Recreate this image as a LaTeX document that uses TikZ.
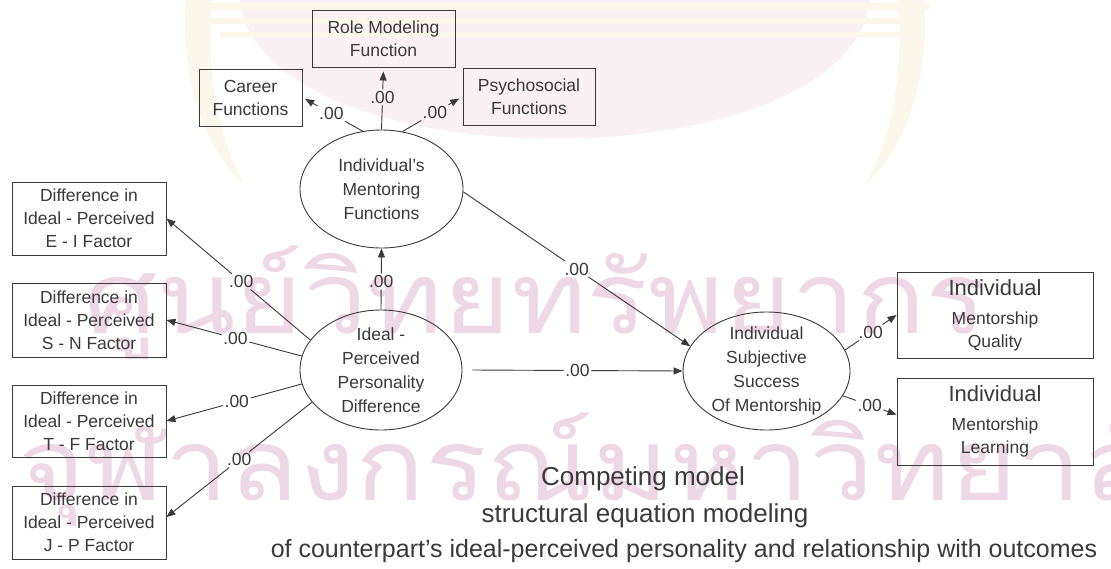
\documentclass[tikz,border=0pt]{standalone}
\usepackage{fontspec}
\setmainfont{Liberation Sans}
\newfontfamily\thaifont[Script=Thai]{Loma}
\usetikzlibrary{shapes.geometric,arrows.meta}

\definecolor{ink}{HTML}{3A3A3A}
\definecolor{wmpink}{HTML}{EFD8E6}
\definecolor{crestpink}{HTML}{FAF1F4}
\definecolor{crestgold}{HTML}{FBF7EA}

\tikzset{
  obs/.style={draw=ink, line width=0.9pt, rectangle, inner sep=0pt, align=center,
              text=ink, font=\fontsize{17.5}{23}\selectfont},
  latent/.style={draw=ink, line width=0.9pt, ellipse, inner sep=0pt},
  lattext/.style={align=center, text=ink, inner sep=0pt, font=\fontsize{17.5}{24}\selectfont},
  coef/.style={inner sep=1.5pt, text=ink, font=\fontsize{17.5}{18}\selectfont},
  link/.style={draw=ink, line width=0.9pt},
  arr/.style={link, -{Triangle[length=9pt,width=7pt]}},
  caption/.style={text=ink, inner sep=0pt, anchor=base},
  watermark/.style={text=wmpink, inner sep=0pt, anchor=base west, font=\thaifont\fontsize{100}{100}\selectfont},
}

% path from a latent variable to its target, broken by the coefficient label
\newcommand\coefpath[5]{%
  \path (#1) -- node[coef,pos=#3] (#4) {.00} (#2);
  \draw[link] (#1) -- (#4);
  \draw[arr,#5] (#4) -- (#2);}

\begin{document}
\begin{tikzpicture}[x=1pt,y=-1pt]
\useasboundingbox (0,0) rectangle (1111,568);
\fill[white] (0,0) rectangle (1111,568);

% faint crest behind the upper part
\fill[crestpink] (240,0) .. controls (260,185) and (850,185) .. (870,0) -- cycle;
\fill[crestgold] (190,3) rectangle (930,10);
\fill[crestgold] (205,18) rectangle (915,24);
\fill[crestgold] (220,32) rectangle (900,37);
\fill[crestgold] (186,0) .. controls (180,80) and (205,150) .. (245,185)
  .. controls (222,145) and (205,80) .. (212,0) -- cycle;
\fill[crestgold] (924,0) .. controls (930,80) and (905,150) .. (865,185)
  .. controls (888,145) and (905,80) .. (898,0) -- cycle;

% watermark lettering
\node[watermark] (wmtop) at (84,333) {\scalebox{1.15}[1]{ศูนย์วิทยทรัพยากร}};
\node[watermark] (wmbottom) at (18,500) {\scalebox{1.15}[1]{จุฬาลงกรณ์มหาวิทยาลัย}};

% mentoring function indicators
\node[obs, minimum width=143pt, minimum height=57pt] (role) at (383.5,38.5) {Role Modeling\\Function};
\node[obs, minimum width=103pt, minimum height=57pt] (career) at (250.5,97.5) {Career\\Functions};
\node[obs, minimum width=132pt, minimum height=57pt] (psycho) at (529,96.5) {Psychosocial\\Functions};

% personality difference indicators
\node[obs, minimum width=154pt, minimum height=73pt] (ei) at (89,218.5) {Difference in\\Ideal - Perceived\\E - I Factor};
\node[obs, minimum width=154pt, minimum height=74pt] (sn) at (89,320) {Difference in\\Ideal - Perceived\\S - N Factor};
\node[obs, minimum width=154pt, minimum height=72pt] (tf) at (89,421) {Difference in\\Ideal - Perceived\\T - F Factor};
\node[obs, minimum width=154pt, minimum height=73pt] (jp) at (89,522.5) {Difference in\\Ideal - Perceived\\J - P Factor};

% outcome indicators
\node[obs, minimum width=196pt, minimum height=86pt] (quality) at (995,315)
  {{\fontsize{22}{22}\selectfont Individual}\\[6pt]Mentorship\\Quality};
\node[obs, minimum width=196pt, minimum height=87pt] (learning) at (995,421.5)
  {{\fontsize{22}{22}\selectfont Individual}\\[6pt]Mentorship\\Learning};

% latent variables
\node[latent, minimum width=163pt, minimum height=118pt] (mentor) at (381.5,189) {};
\node[lattext] (mentortext) at (mentor) {Individual's\\Mentoring\\Functions};
\node[latent, minimum width=162pt, minimum height=120pt] (ideal) at (381,370) {};
\node[lattext] (idealtext) at (ideal) {Ideal -\\Perceived\\Personality\\Difference};
\node[latent, minimum width=167pt, minimum height=118pt] (success) at (766.5,371) {};
\node[lattext] (successtext) at (success) {Individual\\Subjective\\Success\\Of Mentorship};

% paths
\coefpath{mentor.north}{role.south}{0.52}{cRole}{shorten >=4pt}
\coefpath{mentor.108.9}{career.east}{0.52}{cCareer}{shorten >=3pt}
\coefpath{mentor.70.2}{psycho.west}{0.54}{cPsycho}{shorten >=4pt}

\coefpath{ideal.157.7}{ei.east}{0.48}{cEI}{}
\coefpath{ideal.170.9}{sn.east}{0.49}{cSN}{}
\coefpath{ideal.190.8}{tf.east}{0.48}{cTF}{}
\coefpath{ideal.205.9}{jp.4}{0.5}{cJP}{}

\coefpath{ideal.north}{mentor.south}{0.46}{cIM}{}
\coordinate (hstart) at ([xshift=10pt]ideal.east);
\coefpath{hstart}{success.west}{0.5}{cIS}{}
\coefpath{mentor.358}{success.162.3}{0.5}{cMS}{}

\coefpath{success.15}{quality.west}{0.5}{cQ}{}
\coefpath{success.342.6}{learning.176}{0.5}{cL}{}

% caption
\node[caption, font=\fontsize{26}{26}\selectfont] (cap1) at (643,485) {Competing model};
\node[caption, font=\fontsize{26}{26}\selectfont] (cap2) at (645,522) {structural equation modeling};
\node[caption, font=\fontsize{25}{25}\selectfont] (cap3) at (684,557) {of counterpart's ideal-perceived personality and relationship with outcomes};
\end{tikzpicture}
\end{document}
